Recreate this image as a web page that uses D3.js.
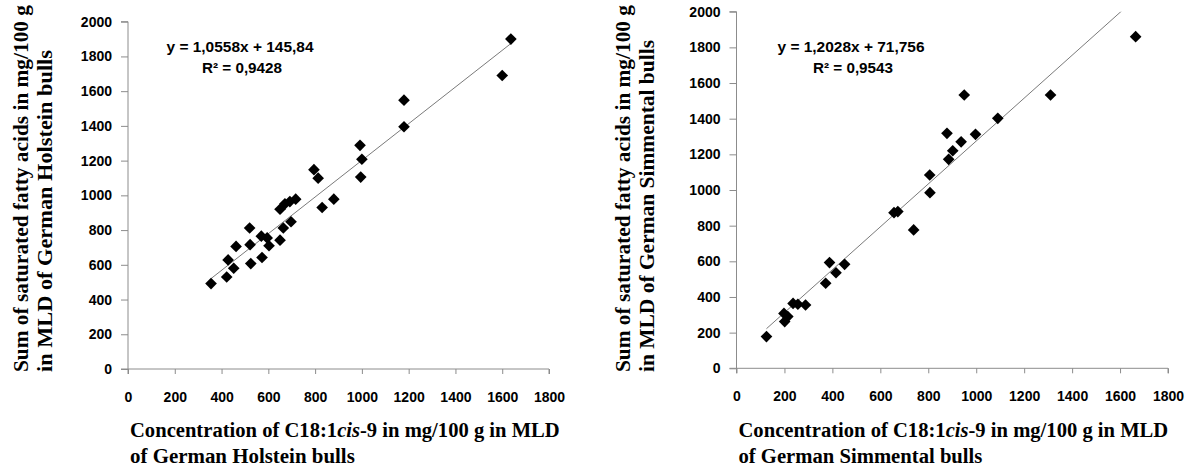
<!DOCTYPE html>
<html><head><meta charset="utf-8">
<script src="https://cdn.jsdelivr.net/npm/d3@7"></script>
<style>
html,body{margin:0;padding:0;background:#fff;}
svg{display:block;}
</style></head>
<body>
<svg id="c" width="1195" height="468"></svg>
<script>
// ---- data ----
const xTicks = [0,200,400,600,800,1000,1200,1400,1600,1800];
const yTicks = [0,200,400,600,800,1000,1200,1400,1600,1800,2000];

const holsteinX = [1637,1600,1180,1180,992,1000,995,795,813,830,880,650,671,692,717,664,697,520,570,595,650,603,462,522,428,573,525,452,422,355];
const holsteinY = [1900,1690,1548,1395,1288,1208,1105,1148,1099,930,978,920,951,964,978,812,848,812,765,755,742,710,706,716,628,642,607,580,530,492];
const holsteinFit = {slope:1.0558, intercept:145.84};
const holsteinEq = ["y = 1,0558x + 145,84","R² = 0,9428"];

const simmentalX = [1665,1310,950,1090,878,997,937,902,885,806,807,657,673,739,388,451,415,372,236,256,288,198,214,201,125];
const simmentalY = [1860,1533,1533,1402,1318,1312,1270,1220,1172,1084,985,873,879,776,593,583,536,477,364,359,355,308,290,262,178];
const simmentalFit = {slope:1.2028, intercept:71.756};
const simmentalEq = ["y = 1,2028x + 71,756","R² = 0,9543"];

const yTitleLines = {
  h:["Sum of saturated fatty acids in mg/100 g","in MLD of German Holstein bulls"],
  s:["Sum of saturated fatty acids in mg/100 g","in MLD of German Simmental bulls"]
};
const xTitleBreed = {h:"of German Holstein bulls", s:"of German Simmental bulls"};

// ---- layout ----
const panels = [
  {xs:holsteinX, ys:holsteinY, fit:holsteinFit, eq:holsteinEq, key:"h",
   px:[128,549], py:[369,21.7], eqX:240, yT:[21,45], xT1W:430, xT2W:225, yT1L:367, yT2L:322},
  {xs:simmentalX, ys:simmentalY, fit:simmentalFit, eq:simmentalEq, key:"s",
   px:[736.5,1168], py:[368.3,11.7], eqX:851, yT:[623,647], xT1W:430, xT2W:244, yT1L:367, yT2L:332}
];

const svg = d3.select("#c");
const axisCol = "#8c8c8c";
const serif = "'Liberation Serif','Times New Roman',serif";
const sans = "'Liberation Sans',Arial,sans-serif";

panels.forEach((p,i)=>{
  const x = d3.scaleLinear().domain([0,1800]).range(p.px);
  const y = d3.scaleLinear().domain([0,2000]).range(p.py);
  const g = svg.append("g");

  // y axis
  const ya = d3.axisLeft(y).tickValues(yTicks).tickSize(7).tickPadding(9).tickFormat(d3.format("d"));
  const yg = g.append("g").attr("transform",`translate(${p.px[0]},0)`).call(ya);
  yg.select(".domain").attr("stroke",axisCol).attr("d",`M-7,${p.py[1]}H0V${p.py[0]+5}`);
  yg.selectAll(".tick line").attr("stroke",axisCol);
  yg.selectAll(".tick text").attr("font-family",sans).attr("font-weight","bold").attr("font-size",14).attr("fill","#000");

  // x axis
  const xa = d3.axisBottom(x).tickValues(xTicks).tickSize(5).tickPadding(18).tickFormat(d3.format("d"));
  const xg = g.append("g").attr("transform",`translate(0,${p.py[0]})`).call(xa);
  xg.select(".domain").attr("stroke",axisCol).attr("d",`M${p.px[0]-7},0H${p.px[1]}V5`);
  xg.selectAll(".tick line").attr("stroke",axisCol);
  xg.selectAll(".tick text").attr("font-family",sans).attr("font-weight","bold").attr("font-size",14).attr("fill","#000");

  // clip
  const cid = "clip"+i;
  svg.append("clipPath").attr("id",cid).append("rect")
    .attr("x",p.px[0]).attr("y",p.py[1]).attr("width",p.px[1]-p.px[0]).attr("height",p.py[0]-p.py[1]);

  // trend line
  const xmin = d3.min(p.xs), xmax = d3.max(p.xs);
  const f = v => p.fit.slope*v + p.fit.intercept;
  g.append("line").attr("clip-path",`url(#${cid})`)
    .attr("x1",x(xmin)).attr("y1",y(f(xmin))).attr("x2",x(xmax)).attr("y2",y(f(xmax)))
    .attr("stroke","#7a7a7a").attr("stroke-width",1);

  // markers
  const sym = d3.symbol().type(d3.symbolSquare).size(68);
  g.selectAll("path.pt").data(p.xs.map((v,k)=>[v,p.ys[k]])).join("path")
    .attr("class","pt").attr("d",sym)
    .attr("transform",d=>`translate(${x(d[0])},${y(d[1])}) rotate(45)`)
    .attr("fill","#000");

  // equation
  g.append("text").attr("x",p.eqX).attr("y",52).attr("text-anchor","middle")
    .attr("font-family",sans).attr("font-weight","bold").attr("font-size",14)
    .attr("textLength",147).attr("lengthAdjust","spacingAndGlyphs").text(p.eq[0]);
  g.append("text").attr("x",p.eqX+2).attr("y",73).attr("text-anchor","middle")
    .attr("font-family",sans).attr("font-weight","bold").attr("font-size",14)
    .attr("textLength",80).attr("lengthAdjust","spacingAndGlyphs").text(p.eq[1]);

  // y title
  yTitleLines[p.key].forEach((t,k)=>{
    const tx = p.yT[k]+7;
    g.append("text").attr("transform",`translate(${tx},372) rotate(-90)`)
      .attr("x",0).attr("y",0).attr("text-anchor","start")
      .attr("font-family",serif).attr("font-weight","bold").attr("font-size",20)
      .attr("textLength",k===0?p.yT1L:p.yT2L).attr("lengthAdjust","spacingAndGlyphs").text(t);
  });

  // x title
  const x0 = p.px[0]+2;
  const t1 = g.append("text").attr("x",x0).attr("y",437)
    .attr("font-family",serif).attr("font-weight","bold").attr("font-size",20);
  t1.append("tspan").text("Concentration of C18:1");
  t1.append("tspan").attr("font-style","italic").text("cis");
  t1.append("tspan").text("-9 in mg/100 g in MLD");
  const w1 = t1.node().getComputedTextLength();
  t1.attr("transform",`translate(${x0},0) scale(${p.xT1W/w1},1) translate(${-x0},0)`);

  const t2 = g.append("text").attr("x",x0).attr("y",463)
    .attr("font-family",serif).attr("font-weight","bold").attr("font-size",20)
    .text(xTitleBreed[p.key]);
  const w2 = t2.node().getComputedTextLength();
  t2.attr("transform",`translate(${x0},0) scale(${p.xT2W/w2},1) translate(${-x0},0)`);
});
</script>
</body></html>
